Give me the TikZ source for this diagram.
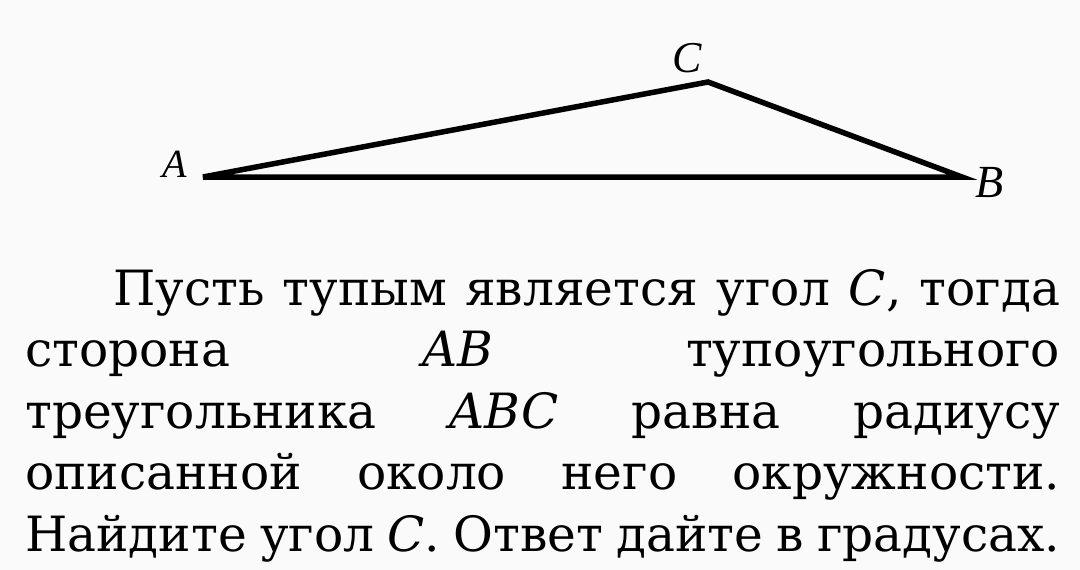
\documentclass[tikz,border=0pt]{standalone}
\usepackage{fontspec}
\setmainfont{DejaVu Serif}
\newfontfamily\vertexfont{Liberation Serif}

\begin{document}
\begin{tikzpicture}[x=1pt, y=-1pt]

% Page frame
\fill[black!2] (0,0) rectangle (1080,570);
\useasboundingbox (0,0) rectangle (1080,570);

% Top: obtuse triangle ABC
\begin{scope}
    % Define vertices
    \coordinate (A) at (203,177);
    \coordinate (B) at (962,177);
    \coordinate (C) at (708,82);

    % Draw triangle
    \draw[black, line width=5.5pt, line join=miter] (A) -- (B) -- (C) -- cycle;

    % Label vertices
    \node[anchor=base west, inner sep=0pt, font=\vertexfont\fontsize{40}{44}\selectfont\itshape] (LA) at (162,177) {A};
    \node[anchor=base west, inner sep=0pt, font=\vertexfont\fontsize{46}{50}\selectfont\itshape] (LB) at (975,197) {B};
    \node[anchor=base west, inner sep=0pt, font=\vertexfont\fontsize{44}{50}\selectfont\itshape] (LC) at (672,72) {C};
\end{scope}

% Bottom: problem text
\node[anchor=base west, inner sep=0pt, text width=1035pt, align=justify,
      font=\fontsize{48.6}{61.5}\selectfont] (task) at (25,305)
    {\tolerance=10000\hyphenpenalty=10000\hspace*{88pt}Пусть тупым является угол \textit{C}, тогда\linebreak
     сторона \textit{AB} тупоугольного\linebreak
     треугольника \textit{ABC} равна радиусу\linebreak
     описанной около него окружности.\linebreak
     Найдите угол \textit{C}. Ответ дайте в градусах.};

\end{tikzpicture}
\end{document}
